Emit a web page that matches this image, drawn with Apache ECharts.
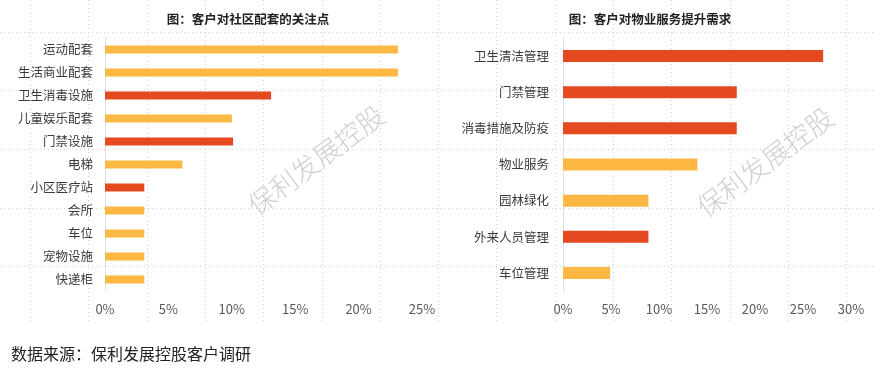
<!DOCTYPE html>
<html><head><meta charset="utf-8">
<script src="https://cdn.jsdelivr.net/npm/echarts@6/dist/echarts.min.js"></script>
<style>html,body{margin:0;padding:0;background:#fff}#c{width:874px;height:375px}</style>
</head><body><div id="c"></div>
<script>
const leftTitle = '图：客户对社区配套的关注点';
const leftCats = ['运动配套','生活商业配套','卫生消毒设施','儿童娱乐配套','门禁设施','电梯','小区医疗站','会所','车位','宠物设施','快递柜'];
const leftVals = [23.1,23.1,13.1,10.0,10.1,6.1,3.1,3.1,3.1,3.1,3.1];
const leftHi = [false,false,true,false,true,false,true,false,false,false,false];
const rightTitle = '图：客户对物业服务提升需求';
const rightCats = ['卫生清洁管理','门禁管理','消毒措施及防疫','物业服务','园林绿化','外来人员管理','车位管理'];
const rightVals = [27.1,18.1,18.1,14.0,8.9,8.9,4.9];
const rightHi = [true,true,true,false,false,true,false];
const sourceText = '数据来源：保利发展控股客户调研';
const watermark = '保利发展控股';

const YEL = '#FDB843', RED = '#E5491F';
const FONT = '"Noto Sans CJK SC", "Noto Sans", sans-serif';

const bg = [];
for (let k = 0; k < 15; k++) {
  const x = Math.round(30 + 58.3 * k) + 0.5;
  bg.push({type:'line', silent:true, z:-10, shape:{x1:x,y1:0,x2:x,y2:322}, style:{stroke:'#cfcfcf', lineWidth:1, lineDash:[1,3]}});
}
[32,90,149,208,266].forEach(y => {
  bg.push({type:'line', silent:true, z:-10, shape:{x1:0,y1:y+0.5,x2:874,y2:y+0.5}, style:{stroke:'#cfcfcf', lineWidth:1, lineDash:[1,3]}});
});

const chart = echarts.init(document.getElementById('c'));
chart.setOption({
  animation:false,
  backgroundColor:'#fff',
  textStyle:{fontFamily:FONT},
  title:[
    {text:leftTitle, left:243, top:8, textAlign:'center', textStyle:{fontSize:12.5, fontWeight:'bold', color:'#222', fontFamily:FONT}},
    {text:rightTitle, left:645, top:8, textAlign:'center', textStyle:{fontSize:12.5, fontWeight:'bold', color:'#222', fontFamily:FONT}}
  ],
  grid:[
    {left:105, width:317, top:38, height:253},
    {left:563, width:288, top:38, height:253}
  ],
  xAxis:[
    {gridIndex:0, type:'value', min:0, max:25, interval:5, splitLine:{show:false}, axisLine:{show:false}, axisTick:{show:false},
     axisLabel:{formatter:'{value}%', color:'#595959', fontSize:13, margin:12, fontFamily:FONT}},
    {gridIndex:1, type:'value', min:0, max:30, interval:5, splitLine:{show:false}, axisLine:{show:false}, axisTick:{show:false},
     axisLabel:{formatter:'{value}%', color:'#595959', fontSize:13, margin:12, fontFamily:FONT}}
  ],
  yAxis:[
    {gridIndex:0, type:'category', inverse:true, data:leftCats, axisTick:{show:false},
     axisLine:{lineStyle:{color:'#e0e0e0'}}, axisLabel:{color:'#3a3a3a', fontSize:12.5, margin:12, fontFamily:FONT}},
    {gridIndex:1, type:'category', inverse:true, data:rightCats, axisTick:{show:false},
     axisLine:{lineStyle:{color:'#e0e0e0'}}, axisLabel:{color:'#3a3a3a', fontSize:12.5, margin:14, fontFamily:FONT}}
  ],
  series:[
    {type:'bar', xAxisIndex:0, yAxisIndex:0, barWidth:8,
     data:leftVals.map((v,i)=>({value:v, itemStyle:{color:leftHi[i]?RED:YEL}}))},
    {type:'bar', xAxisIndex:1, yAxisIndex:1, barWidth:12,
     data:rightVals.map((v,i)=>({value:v, itemStyle:{color:rightHi[i]?RED:YEL}}))}
  ],
  graphic: bg.concat([
    {type:'text', silent:true, z:10, x:316, y:160, rotation:0.64,
     style:{text:watermark, fill:'rgba(170,170,170,0.55)', font:'300 27px ' + FONT, textAlign:'center', textVerticalAlign:'middle', align:'center', verticalAlign:'middle'}},
    {type:'text', silent:true, z:10, x:765, y:162, rotation:0.64,
     style:{text:watermark, fill:'rgba(170,170,170,0.55)', font:'300 27px ' + FONT, textAlign:'center', textVerticalAlign:'middle', align:'center', verticalAlign:'middle'}},
    {type:'text', silent:true, x:11, y:354,
     style:{text:sourceText, fill:'#222', font:'16px ' + FONT, verticalAlign:'middle', textVerticalAlign:'middle'}}
  ])
});
</script></body></html>
